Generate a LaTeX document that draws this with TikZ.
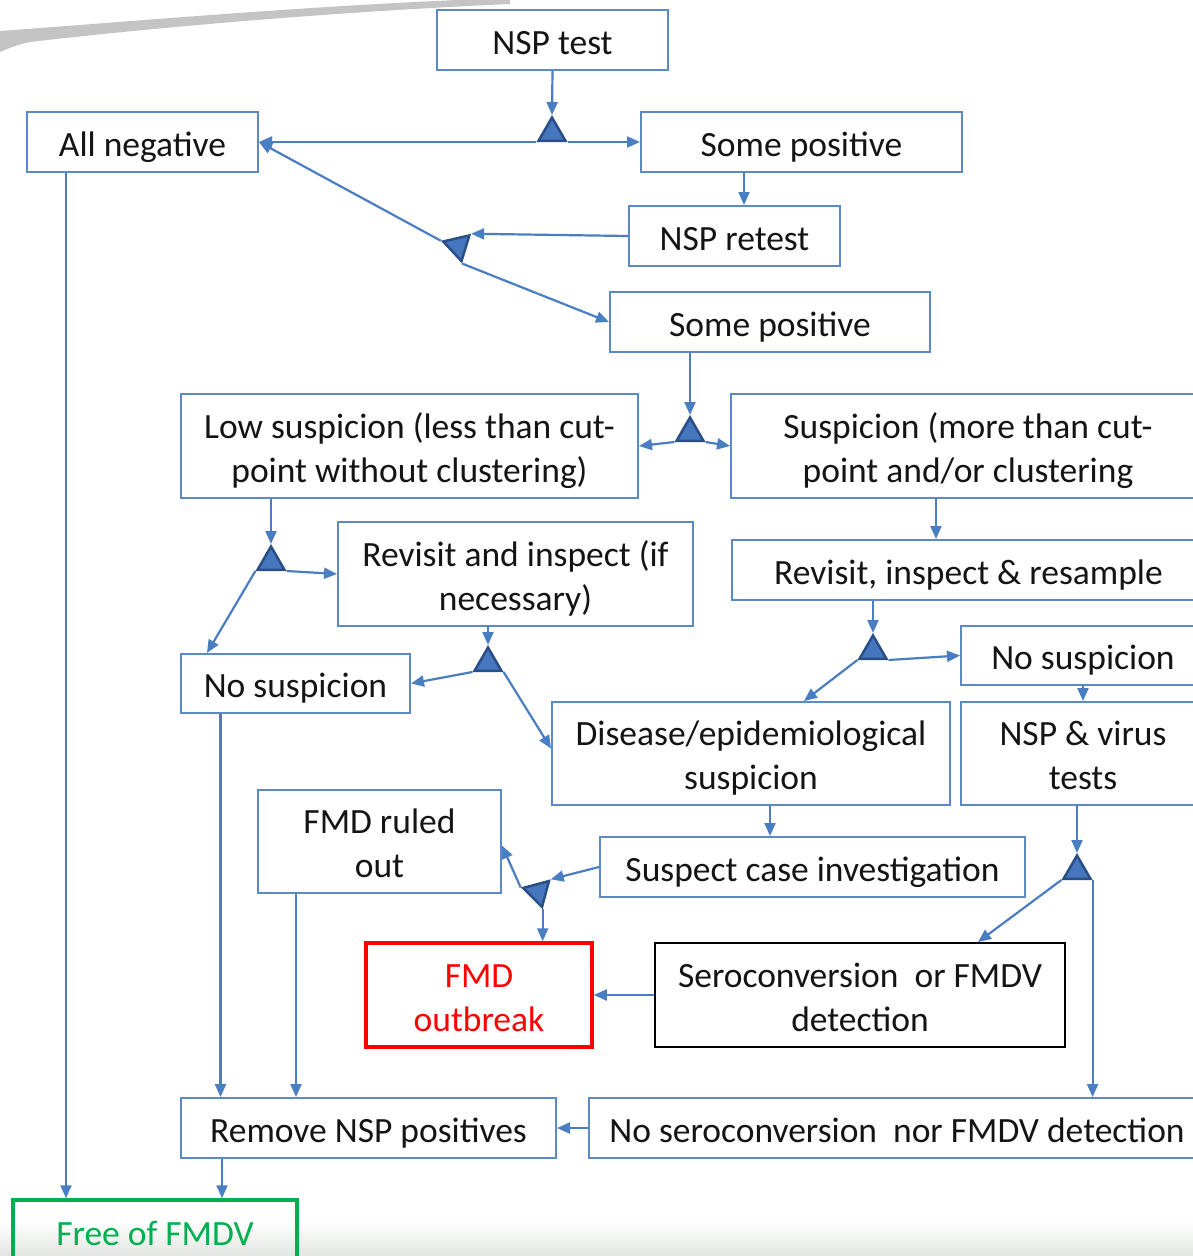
\documentclass[tikz,border=0pt]{standalone}
\usepackage{fontspec}
\setmainfont{Carlito}
\usetikzlibrary{arrows.meta,shapes.geometric,calc,backgrounds}
\definecolor{lineblue}{HTML}{4A7EC3}
\definecolor{boxblue}{HTML}{5A8AC8}
\definecolor{trifill}{HTML}{4676BE}
\definecolor{tridark}{HTML}{2A4E86}
\definecolor{txt}{HTML}{141414}
\definecolor{fmdred}{HTML}{FF0000}
\definecolor{fmdgreen}{HTML}{00B050}
\definecolor{swooshgray}{HTML}{C4C4C4}
\definecolor{bandgray}{HTML}{E2E6E2}
\newcommand{\topstrut}{\rule{0pt}{37pt}}
\begin{document}
\begin{tikzpicture}[x=1pt,y=-1pt,
  font=\fontsize{35.5}{44}\selectfont,
  box/.style={draw=boxblue, line width=2pt, fill=white, text=txt, align=center, inner sep=0pt, anchor=center,
    execute at begin node={\rule{0pt}{37pt}}, execute at end node={\rule[-9pt]{0pt}{9pt}}},
  redbox/.style={box, draw=fmdred, text=fmdred, line width=3.5pt},
  blackbox/.style={box, draw=black, line width=2pt},
  greenbox/.style={box, draw=fmdgreen, text=fmdgreen, line width=3.5pt, fill=none},
  arr/.style={draw=lineblue, line width=2.2pt, -{Triangle[length=13pt,width=11pt]}},
  tri/.style={regular polygon, regular polygon sides=3, minimum size=31pt, inner sep=0pt, fill=trifill, draw=tridark, line width=2.5pt}]
\useasboundingbox (0,0) rectangle (1193,1256);
\clip (0,0) rectangle (1193,1256);

% boxes
\node[box, minimum width=231pt, minimum height=60pt] (nsptest) at (552.5,40) {NSP test};
\node[box, minimum width=231pt, minimum height=60pt] (allneg) at (142.5,142) {All negative};
\node[box, minimum width=321pt, minimum height=60pt] (somepos1) at (801.5,142) {Some positive};
\node[box, minimum width=211pt, minimum height=60pt] (retest) at (734.5,236) {NSP retest};
\node[box, minimum width=320pt, minimum height=60pt] (somepos2) at (770,322) {Some positive};
\node[box, minimum width=457pt, minimum height=104pt] (lowsusp) at (409.5,446) {\topstrut Low suspicion (less than cut-\\point without clustering)};
\node[box, minimum width=474pt, minimum height=104pt] (susp) at (968,446) {\topstrut Suspicion (more than cut-\\point and/or clustering};
\node[box, minimum width=355pt, minimum height=104pt] (revisit) at (515.5,574) {\topstrut Revisit and inspect (if\\necessary)};
\node[box, minimum width=473pt, minimum height=60pt] (resample) at (968.5,570) {Revisit, inspect \& resample};
\node[box, minimum width=229pt, minimum height=59pt] (nosuspL) at (295.5,683.5) {No suspicion};
\node[box, minimum width=244pt, minimum height=59pt] (nosuspR) at (1083,655.5) {No suspicion};
\node[box, minimum width=398pt, minimum height=103pt] (disease) at (751,753.5) {\topstrut Disease/epidemiological\\suspicion};
\node[box, minimum width=244pt, minimum height=103pt] (virus) at (1083,753.5) {\topstrut NSP \& virus\\tests};
\node[box, minimum width=243pt, minimum height=103pt] (ruled) at (379.5,841.5) {\topstrut FMD ruled\\out};
\node[box, minimum width=425pt, minimum height=60pt] (suspect) at (812.5,867) {Suspect case investigation};
\node[redbox, minimum width=226pt, minimum height=104pt] (outbreak) at (479,995) {\topstrut FMD\\outbreak};
\node[blackbox, minimum width=410pt, minimum height=104pt] (sero) at (860,995) {\topstrut Seroconversion \ or FMDV\\detection};
\node[box, minimum width=375pt, minimum height=60pt] (remove) at (368.5,1128) {Remove NSP positives};
\node[box, minimum width=616pt, minimum height=60pt] (noseroc) at (897,1128) {No seroconversion \ nor FMDV detection};
\node[greenbox, minimum width=284pt, minimum height=62pt] (free) at (155,1231) {Free of FMDV};

% decision triangles
\node[tri] (t1) at (552,133) {};
\node[tri, shape border rotate=-47] (t2) at (458,246) {};
\node[tri] (t3) at (690,433) {};
\node[tri] (t4) at (271,562) {};
\node[tri] (t5) at (488,663) {};
\node[tri, shape border rotate=-45] (t6) at (538,892) {};
\node[tri] (t7) at (873,651) {};
\node[tri] (t8) at (1077,871) {};

\begin{scope}[on background layer]
% backdrop and decorations
\fill[white] (0,0) rectangle (1193,1256);
\shade[top color=white, bottom color=bandgray] (0,1220) rectangle (1193,1256);
\fill[swooshgray] (0,31) .. controls (150,20) and (330,4) .. (510,-2) -- (510,4)
  .. controls (330,12) and (150,28) .. (30,42) .. controls (15,45) and (5,50) .. (0,52) -- cycle;
% connectors
\draw[arr] (nsptest.south) -- (t1.north);
\draw[arr] (t1.corner 2) -- (allneg.east);
\draw[arr] (t1.corner 3) -- (somepos1.west);
\draw[arr] ([xshift=-57.5pt]somepos1.south) -- ([xshift=-57.5pt]somepos1.south |- retest.north);
\draw[arr] (retest.west) -- (t2.corner 1);
\draw[arr] (t2.corner 2) -- (allneg.east);
\draw[arr] (t2.corner 3) -- (somepos2.west);
\draw[arr] (t3.north |- somepos2.south) -- (t3.north);
\draw[arr] (t3.corner 2) -- (lowsusp.east);
\draw[arr] (t3.corner 3) -- (susp.west);
\draw[arr] (t4.north |- lowsusp.south) -- (t4.north);
\draw[arr] (t4.corner 3) -- (revisit.west);
\draw[arr] (t4.corner 2) -- ([xshift=27pt]nosuspL.north west);
\draw[arr] (t5.north |- revisit.south) -- (t5.north);
\draw[arr] (t5.corner 2) -- (nosuspL.east);
\draw[arr] (t5.corner 3) -- ([yshift=5pt]disease.west);
\draw[arr] ([xshift=-32pt]susp.south) -- ([xshift=-32pt]susp.south |- resample.north);
\draw[arr] (t7.north |- resample.south) -- (t7.north);
\draw[arr] (t7.corner 3) -- (nosuspR.west);
\draw[arr] (t7.corner 2) -- ([xshift=53pt]disease.north);
\draw[arr] (nosuspR.south) -- (virus.north);
\draw[arr] ([xshift=19pt]disease.south) -- ([xshift=19pt]disease.south |- suspect.north);
\draw[arr] (suspect.west) -- (t6.corner 1);
\draw[arr] (t6.corner 2) -- ([yshift=-4pt]ruled.east);
\draw[arr] (t6.corner 3) -- (t6.corner 3 |- outbreak.north);
\draw[arr] (t8.north |- virus.south) -- (t8.north);
\draw[arr] (t8.corner 2) -- ([xshift=118pt]sero.north);
\draw[arr] (t8.corner 3) -- (t8.corner 3 |- noseroc.north);
\draw[arr] (sero.west) -- (outbreak.east);
\draw[arr] (noseroc.west) -- (remove.east);
\draw[arr] ([xshift=-75pt]nosuspL.south) -- ([xshift=-75pt]nosuspL.south |- remove.north);
\draw[arr] ([xshift=-83.5pt]ruled.south) -- ([xshift=-83.5pt]ruled.south |- remove.north);
\draw[arr] ([xshift=-76.5pt]allneg.south) -- ([xshift=-76.5pt]allneg.south |- free.north);
\draw[arr] ([xshift=-146.5pt]remove.south) -- ([xshift=-146.5pt]remove.south |- free.north);
\end{scope}
\end{tikzpicture}
\end{document}
